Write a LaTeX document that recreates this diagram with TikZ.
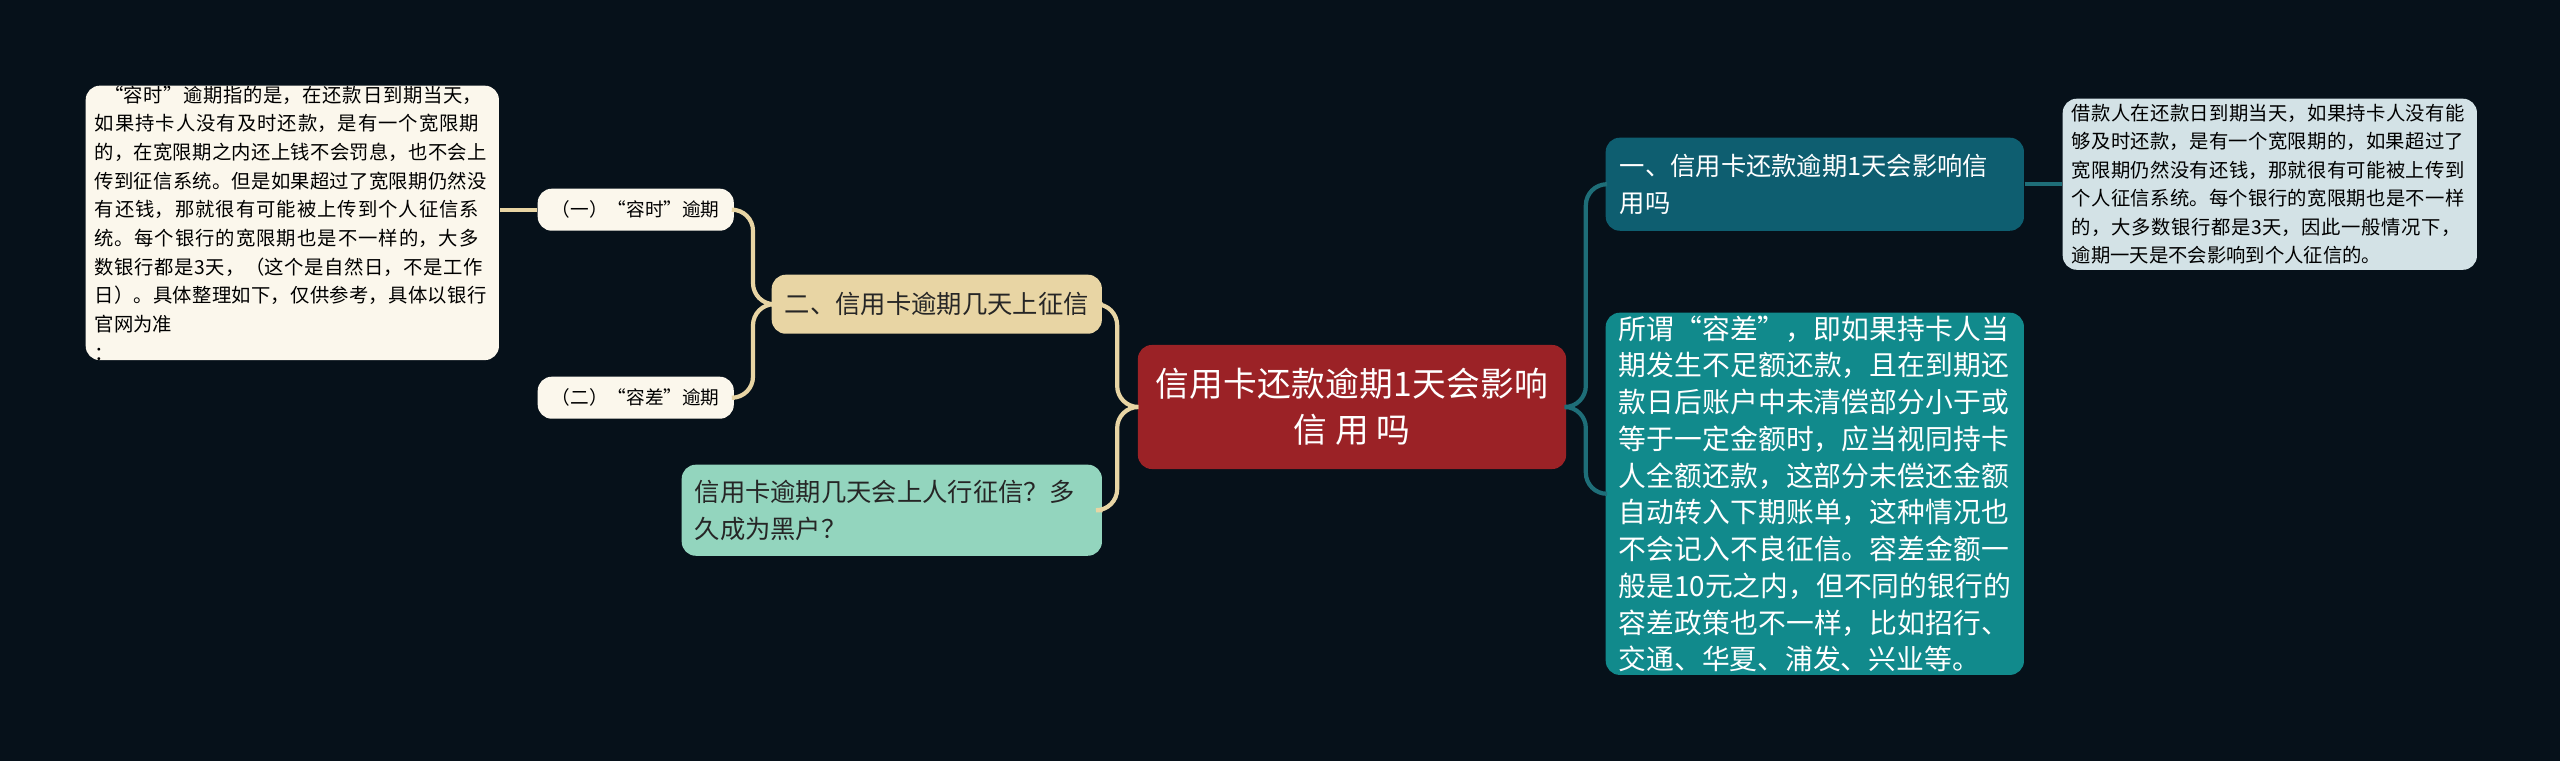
\documentclass[tikz,border=0pt]{standalone}
\usepackage{fontspec}
\setmainfont{Noto Sans CJK SC}
\XeTeXlinebreaklocale "zh"
\XeTeXlinebreakskip=0pt plus 1pt
\begin{document}
\begin{tikzpicture}[x=0.01cm,y=-0.01cm,
  box/.style={rounded corners=4pt,anchor=north west,align=left,inner ysep=0pt},
  lnL/.style={draw=lineL,line width=1.2pt,rounded corners=6pt},
  lnR/.style={draw=lineR,line width=1.2pt,rounded corners=6pt}]
\definecolor{bg}{HTML}{06111A}
\definecolor{cRed}{HTML}{9B2226}
\definecolor{cOne}{HTML}{0E5E70}
\definecolor{cTeal}{HTML}{118A8C}
\definecolor{cLeafR}{HTML}{D3E2E6}
\definecolor{cBeige}{HTML}{E8D5A4}
\definecolor{cMint}{HTML}{93D5BE}
\definecolor{cCream}{HTML}{FBF7EC}
\definecolor{lineL}{HTML}{E8D5A4}
\definecolor{lineR}{HTML}{1E6E78}
\fill[bg] (0,0) rectangle (2560,761);
\useasboundingbox (0,0) rectangle (2560,761);
% nodes
\node[box,fill=cRed,text=white,minimum width=4.28cm,minimum height=1.24cm,align=center,inner xsep=0.14cm,text width=4.0cm,font=\fontsize{9.6}{13}\selectfont,anchor=center] (c) at (1352,407) {信用卡还款逾期1天会影响\\信用吗};
\node[box,fill=cOne,text=white,minimum width=4.18cm,minimum height=0.93cm,inner xsep=0.14cm,text width=3.9cm,font=\fontsize{7.2}{10.4}\selectfont] (n1) at (1605,137) {一、信用卡还款逾期1天会影响信\\用吗};
\node[box,fill=cLeafR,text=black,minimum width=4.14cm,minimum height=1.71cm,inner xsep=0.09cm,text width=3.96cm,font=\fontsize{5.5}{8.1}\selectfont] (r1) at (2062,98) {借款人在还款日到期当天，如果持卡人没有能够及时还款，是有一个宽限期的，如果超过了宽限期仍然没有还钱，那就很有可能被上传到个人征信系统。每个银行的宽限期也是不一样的，大多数银行都是3天，因此一般情况下，逾期一天是不会影响到个人征信的。};
\node[box,fill=cTeal,text=white,minimum width=4.18cm,minimum height=3.62cm,inner xsep=0.13cm,text width=3.92cm,font=\fontsize{7.9}{10.45}\selectfont] (n3) at (1605,312) {所谓“容差”，即如果持卡人当期发生不足额还款，且在到期还款日后账户中未清偿部分小于或等于一定金额时，应当视同持卡人全额还款，这部分未偿还金额自动转入下期账单，这种情况也不会记入不良征信。容差金额一般是10元之内，但不同的银行的容差政策也不一样，比如招行、交通、华夏、浦发、兴业等。};
\node[box,fill=cBeige,text=black!85,minimum width=3.3cm,minimum height=0.59cm,align=center,font=\fontsize{7.2}{9}\selectfont] (n2) at (771,274) {二、信用卡逾期几天上征信};
\node[box,fill=cMint,text=black!85,minimum width=4.2cm,minimum height=0.91cm,inner xsep=0.13cm,text width=3.94cm,font=\fontsize{7.2}{10.4}\selectfont] (n4) at (681,464) {信用卡逾期几天会上人行征信？多\\久成为黑户？};
\node[box,fill=cCream,text=black,minimum width=1.96cm,minimum height=0.42cm,align=center,font=\fontsize{5.3}{7}\selectfont] (s1) at (537,188) {（一）“容时”逾期};
\node[box,fill=cCream,text=black,minimum width=1.96cm,minimum height=0.42cm,align=center,font=\fontsize{5.3}{7}\selectfont] (s2) at (537,376) {（二）“容差”逾期};
\node[box,fill=cCream,text=black,minimum width=4.13cm,minimum height=2.48cm,inner xsep=0.09cm,text width=3.95cm,font=\fontsize{5.5}{8.15}\selectfont] (l1) at (85,85) {\hspace*{0.5em}“容时”逾期指的是，在还款日到期当天，如果持卡人没有及时还款，是有一个宽限期的，在宽限期之内还上钱不会罚息，也不会上传到征信系统。但是如果超过了宽限期仍然没有还钱，那就很有可能被上传到个人征信系统。每个银行的宽限期也是不一样的，大多数银行都是3天，（这个是自然日，不是工作日）。具体整理如下，仅供参考，具体以银行官网为准\\：};
% connectors
\draw[lnL] (c.west) -- ++(-20,0) |- (n2.east);
\draw[lnL] (c.west) -- ++(-20,0) |- (n4.east);
\draw[lnL] (n2.west) -- ++(-18,0) |- (s1.east);
\draw[lnL] (n2.west) -- ++(-18,0) |- (s2.east);
\draw[lnL] (s1.west) -- (l1.east |- s1.west);
\draw[lnR] (c.east) -- ++(19,0) |- (n1.west);
\draw[lnR] (c.east) -- ++(19,0) |- (n3.west);
\draw[lnR] (n1.east) -- (r1.west |- n1.east);
\end{tikzpicture}
\end{document}
